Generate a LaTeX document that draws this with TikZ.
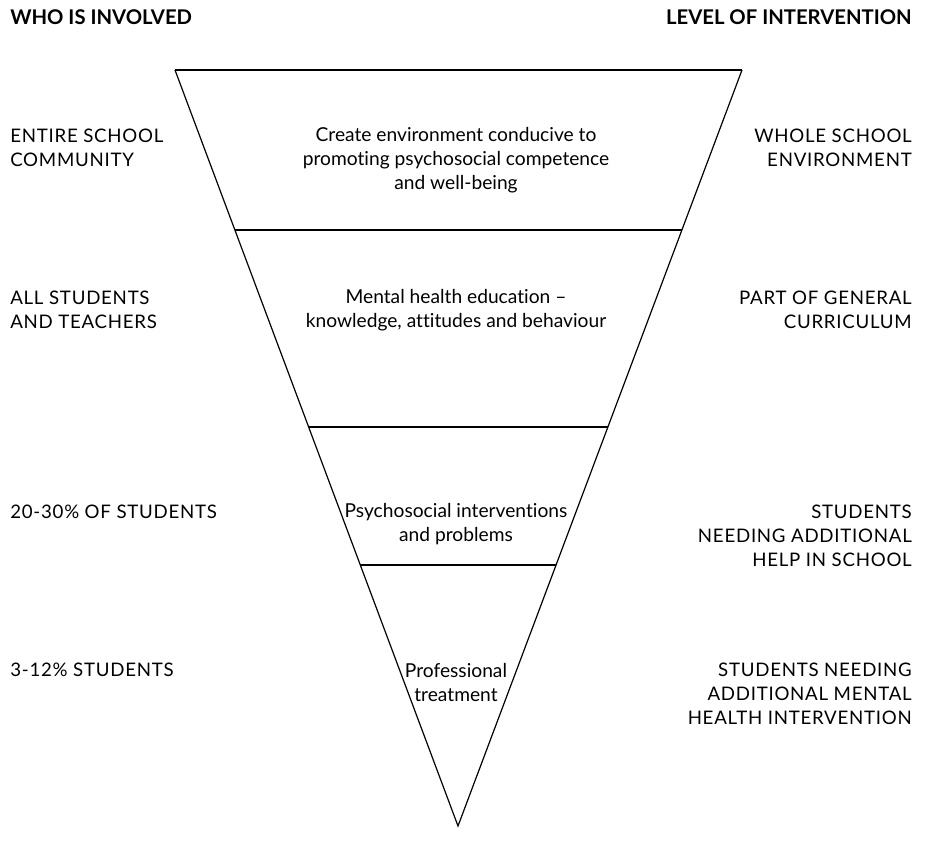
\documentclass[tikz,border=0pt]{standalone}
\usepackage{fontspec}
\setmainfont{Lato}[Ligatures=NoCommon]
\newfontfamily\capsfont{Lato}[LetterSpace=4]
\usetikzlibrary{calc}

\tikzset{
  tier/.style={align=center, inner sep=0pt, font=\fontsize{14.4}{18}\selectfont},
  who/.style={anchor=west, align=left, inner sep=0pt, font=\capsfont\fontsize{14}{18}\selectfont},
  level/.style={anchor=east, align=right, inner sep=0pt, font=\capsfont\fontsize{14}{18}\selectfont},
  head/.style={inner sep=0pt, font=\bfseries\fontsize{15.2}{16}\selectfont},
  band/.style={line width=1.5pt}
}

\begin{document}
\begin{tikzpicture}[x=0.75pt, y=-0.75pt]
  \useasboundingbox (0,0) rectangle (931,854);

  % funnel outline
  \coordinate (tl) at (175,70);
  \coordinate (tr) at (742,70);
  \coordinate (apex) at (458,826);
  \draw[line width=0.9pt, line join=miter] (tl) -- (apex) -- (tr);
  \draw[band] (tl) -- (tr);

  % dividing lines
  \foreach \y/\n in {230/a, 427/b, 565/c}{
    \coordinate (l\n) at ($(tl)!{(\y-70)/756}!(apex)$);
    \coordinate (r\n) at ($(tr)!{(\y-70)/756}!(apex)$);
    \draw[band] (l\n) -- (r\n);
  }

  % headings
  \node[head, anchor=west] (who) at (10,17) {WHO IS INVOLVED};
  \node[head, anchor=east] (lvl) at (912,17) {LEVEL OF INTERVENTION};

  % inside the funnel
  \node[tier] (t1) at (456,160) {Create environment conducive to\\promoting psychosocial competence\\and well-being};
  \node[tier] (t2) at (456,310) {Mental health education --\\knowledge, attitudes and behaviour};
  \node[tier] (t3) at (456,524) {Psychosocial interventions\\and problems};
  \node[tier] (t4) at (456,682) {Professional\\treatment};

  % who
  \node[who] (w1) at (10,148) {ENTIRE SCHOOL\\COMMUNITY};
  \node[who] (w2) at (10,310) {ALL STUDENTS\\AND TEACHERS};
  \node[who] (w3) at (10,512) {20-30\% OF STUDENTS};
  \node[who] (w4) at (10,670) {3-12\% STUDENTS};

  % level
  \node[level] (v1) at (912,148) {WHOLE SCHOOL\\ENVIRONMENT};
  \node[level] (v2) at (912,310) {PART OF GENERAL\\CURRICULUM};
  \node[level] (v3) at (912,536) {STUDENTS\\NEEDING ADDITIONAL\\HELP IN SCHOOL};
  \node[level] (v4) at (912,694) {STUDENTS NEEDING\\ADDITIONAL MENTAL\\HEALTH INTERVENTION};
\end{tikzpicture}
\end{document}
